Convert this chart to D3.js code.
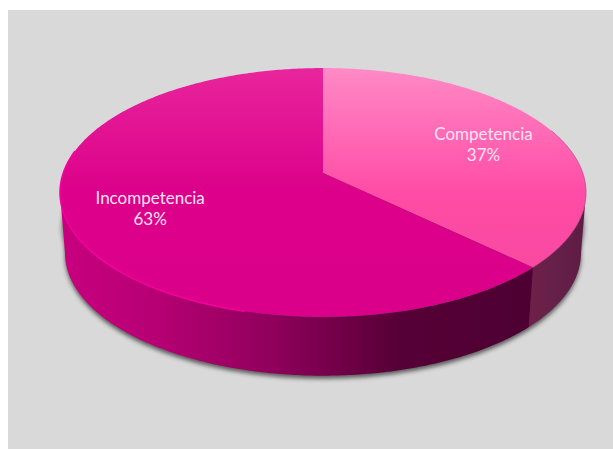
<!DOCTYPE html>
<html><head><meta charset="utf-8">
<script src="https://cdn.jsdelivr.net/npm/d3@7"></script>
<style>html,body{margin:0;padding:0;background:#fff}svg{display:block}</style>
</head><body><svg id="c" width="613" height="449"></svg>
<script>
const categories = ["Competencia", "Incompetencia"];
const values = [37.2, 62.8];
const topColors = [["#ff8ac6", "#ff4ca6", "#f5479e"], ["#e8259c", "#dc008a", "#db0089"]];

const svg = d3.select("#c");
const W = 613, H = 449;
const defs = svg.append("defs");
svg.append("rect").attr("x", 8).attr("y", 10).attr("width", W - 8).attr("height", H - 10).attr("fill", "#d9d9d9");

// perspective projection of the tilted disc
const P = 0.1566;
const project = (theta, cfg, f = 1) => {
  const u = Math.sin(theta) * f, v = Math.cos(theta) * f, w = 1 + P * v;
  return [cfg.cx + cfg.A * u / w, cfg.cy - cfg.B * v / w];
};
const topCfg = { cx: 323, cy: 173, A: 259.8, B: 121.4 };
const botCfg = { cx: 323, cy: 234, A: 254.8, B: 119.5 };

const arcs = d3.pie().sort(null).value(d => d)(values);
const line = d3.line();
const rim = (a0, a1, cfg) => d3.range(0, 1.0001, 1 / Math.max(2, Math.ceil((a1 - a0) * 90))).map(t => project(a0 + (a1 - a0) * t, cfg));

// top gradients
topColors.forEach((c, i) => {
  const g = defs.append("linearGradient").attr("id", "top" + i).attr("gradientUnits", "userSpaceOnUse")
    .attr("x1", 0).attr("x2", 0).attr("y1", 68).attr("y2", 317);
  [0, 0.5, 1].forEach((o, k) => g.append("stop").attr("offset", o).attr("stop-color", c[k]));
});
// side gradients
const sideStops = [
  [[0, "#6f2048"], [0.5, "#65204a"], [1, "#5f1c42"]],
  [[0, "#c8007f"], [0.2, "#b70074"], [0.45, "#90005c"], [0.72, "#560036"], [1, "#4e0033"]]
];
const sideExt = [[528, 585], [60, 530]];
sideStops.forEach((st, i) => {
  const g = defs.append("linearGradient").attr("id", "side" + i).attr("gradientUnits", "userSpaceOnUse")
    .attr("x1", sideExt[i][0]).attr("x2", sideExt[i][1]).attr("y1", 0).attr("y2", 0);
  st.forEach(s => g.append("stop").attr("offset", s[0]).attr("stop-color", s[1]));
});
const blur = (id, sd) => defs.append("filter").attr("id", id).attr("x", "-10%").attr("y", "-10%").attr("width", "120%").attr("height", "120%")
  .append("feGaussianBlur").attr("stdDeviation", sd);
blur("sh", 2.2); blur("soft", 0.6);

// shadow
const full = rim(0, 2 * Math.PI, botCfg);
svg.append("path").attr("d", line(full) + "Z").attr("transform", "translate(0,3)")
  .attr("fill", "#333").attr("opacity", 0.75).attr("filter", "url(#sh)");
svg.append("path").attr("d", line(rim(0, 2 * Math.PI, { ...topCfg, cy: 205, A: 258, B: 120 })) + "Z").attr("transform", "translate(0,3)")
  .attr("fill", "#333").attr("opacity", 0.6).attr("filter", "url(#sh)");

// side walls: visible between the two points where the rim turns back
const frontStart = Math.acos(-P), frontEnd = 2 * Math.PI - frontStart;
arcs.forEach((d, i) => {
  const a0 = Math.max(d.startAngle, frontStart), a1 = Math.min(d.endAngle, frontEnd);
  const pts = [...rim(a0, a1, topCfg), ...rim(a0, a1, botCfg).reverse()];
  svg.append("path").attr("d", line(pts) + "Z").attr("fill", `url(#side${i})`);
});
// top faces
const centre = [topCfg.cx, topCfg.cy];
arcs.forEach((d, i) => {
  svg.append("path").attr("d", line([centre, ...rim(d.startAngle, d.endAngle, topCfg)]) + "Z")
    .attr("fill", `url(#top${i})`);
});
// bevel: bright edge on the front left, muted on the right
const hl = arcs[1];
svg.append("path").attr("d", line(rim(3.4, 4.9, topCfg))).attr("fill", "none").attr("stroke", "#f8009f")
  .attr("stroke-width", 1.4).attr("filter", "url(#soft)");
svg.append("path").attr("d", line(rim(Math.PI * 0.38, hl.startAngle, topCfg))).attr("fill", "none").attr("stroke", "#b83a82")
  .attr("stroke-width", 0.9).attr("opacity", 0.7).attr("filter", "url(#soft)");

// labels
const labelOffset = [[11, 0], [-11, 2]];
const pct = d3.format(".0%");
const total = d3.sum(values);
arcs.forEach((d, i) => {
  const [x, y] = project((d.startAngle + d.endAngle) / 2, topCfg, 0.65);
  const t = svg.append("text").attr("text-anchor", "middle").attr("fill", "#fce3f2")
    .attr("font-family", "Lato, sans-serif").attr("font-size", 17)
    .attr("transform", `translate(${x + labelOffset[i][0]},${y + labelOffset[i][1]})`);
  t.append("tspan").attr("x", 0).attr("y", -3).text(categories[i]);
  t.append("tspan").attr("x", 0).attr("y", 18).text(pct(d.value / total));
});
</script></body></html>
